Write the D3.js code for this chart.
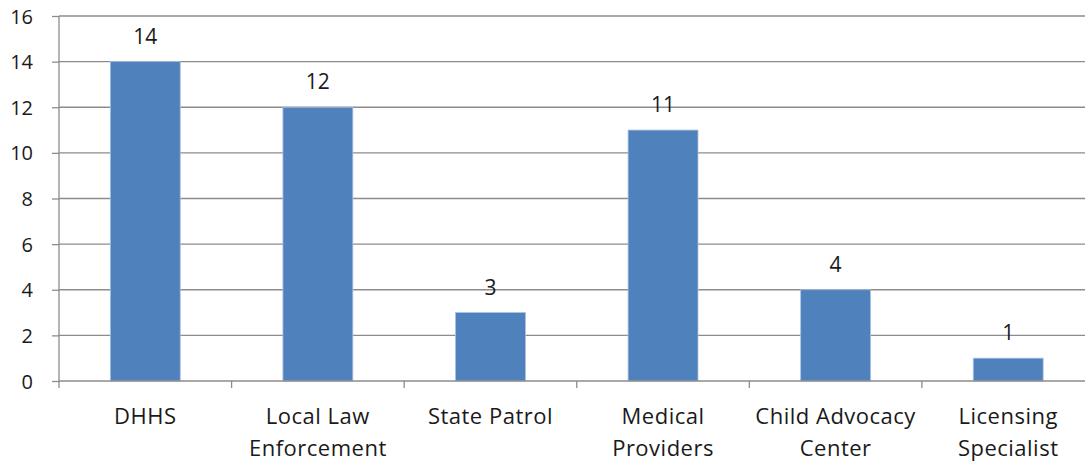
<!DOCTYPE html>
<html><head><meta charset="utf-8">
<script src="https://cdn.jsdelivr.net/npm/d3@7"></script>
<style>
html,body{margin:0;padding:0;background:#fff;}
svg{display:block;font-family:"Open Sans",sans-serif;}
</style></head>
<body>
<svg id="chart" width="1085" height="461"></svg>
<script>
const categories = [["DHHS"],["Local Law","Enforcement"],["State Patrol"],["Medical","Providers"],["Child Advocacy","Center"],["Licensing","Specialist"]];
const values = [14,12,3,11,4,1];
const yTicks = [0,2,4,6,8,10,12,14,16];

(function(){
const svg = d3.select("#chart");
const mLeft = 59, mTop = 16, mBottom = 381, mRight = 1094.5;
const x = d3.scaleBand().domain(d3.range(categories.length)).range([mLeft, mRight]).paddingInner(0.595).paddingOuter(0.2975);
const xOuter = d3.scaleBand().domain(d3.range(categories.length)).range([mLeft, mRight]);
const y = d3.scaleLinear().domain([0,16]).range([mBottom, mTop]);

// gridlines
svg.append("g").selectAll("line").data(yTicks.filter(d=>d>0)).join("line")
  .attr("x1", mLeft).attr("x2", 1085).attr("y1", d=>y(d)).attr("y2", d=>y(d))
  .attr("stroke", "#8c8c8c").attr("stroke-width", 1.3);

// bars
svg.append("g").selectAll("rect").data(values).join("rect")
  .attr("x", (d,i)=>x(i)).attr("width", x.bandwidth())
  .attr("y", d=>y(d)).attr("height", d=>mBottom - y(d))
  .attr("fill", "#4f81bd").attr("stroke", "#a9c1e0").attr("stroke-width", 0.8);

// y axis
const yAxis = d3.axisLeft(y).tickValues(yTicks).tickSize(7).tickPadding(19).tickFormat(d3.format("d"));
const gy = svg.append("g").attr("transform", `translate(${mLeft},0)`).call(yAxis);
gy.select(".domain").attr("stroke", "#8c8c8c").attr("stroke-width", 1.3).attr("d", `M0,${mTop}V${mBottom}`);
gy.selectAll(".tick line").attr("stroke", "#8c8c8c").attr("stroke-width", 1.3);
gy.selectAll(".tick text").attr("font-size", 20).attr("fill", "#1a1a1a").attr("font-family", "Open Sans").attr("dy", "0.35em");

// x axis
const boundaries = d3.range(categories.length + 1).map(i => mLeft + i * xOuter.step());
svg.append("line").attr("x1", mLeft).attr("x2", 1085).attr("y1", mBottom).attr("y2", mBottom)
  .attr("stroke", "#8c8c8c").attr("stroke-width", 1.3);
svg.append("g").selectAll("line").data(boundaries).join("line")
  .attr("x1", d=>d).attr("x2", d=>d).attr("y1", mBottom).attr("y2", mBottom + 7)
  .attr("stroke", "#8c8c8c").attr("stroke-width", 1.3);

// category labels
const lab = svg.append("g").selectAll("text").data(categories).join("text")
  .attr("x", (d,i)=>xOuter(i) + xOuter.bandwidth()/2).attr("y", 424)
  .attr("text-anchor", "middle").attr("font-size", 22).attr("letter-spacing", 0.5).attr("fill", "#1a1a1a");
lab.selectAll("tspan").data(d=>d).join("tspan")
  .attr("x", function(){ return d3.select(this.parentNode).attr("x"); })
  .attr("dy", (d,i)=> i===0 ? 0 : 32).text(d=>d);

// value labels
svg.append("g").selectAll("text").data(values).join("text")
  .attr("x", (d,i)=>x(i) + x.bandwidth()/2).attr("y", d=>y(d) - 18)
  .attr("text-anchor", "middle").attr("font-size", 21).attr("fill", "#1a1a1a").text(d=>d);
})();
</script>
</body></html>
